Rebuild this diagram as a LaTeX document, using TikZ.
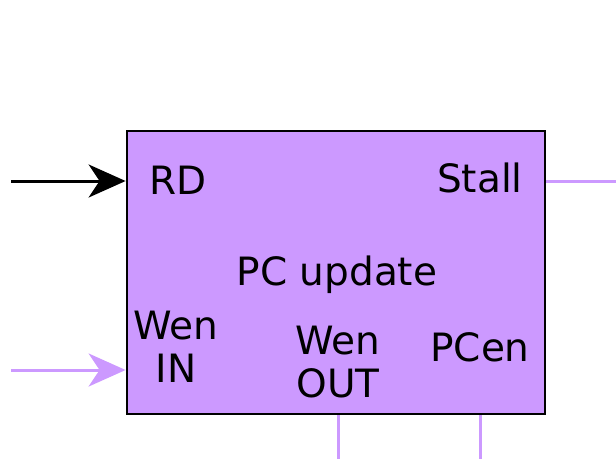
\documentclass[tikz,border=0pt]{standalone}
\usepackage{fontspec}
\setmainfont{DejaVu Sans}
\usetikzlibrary{arrows.meta}
\definecolor{pcfill}{HTML}{CC99FF}
\begin{document}
\begin{tikzpicture}[x=1pt,y=-1pt,
  box/.style={draw=black,line width=2.8pt,fill=pcfill,minimum width=418pt,minimum height=283pt,inner sep=0pt},
  lbl/.style={font=\fontsize{39}{43}\selectfont,inner sep=0pt,align=center},
  blackarrow/.style={draw=black,line width=3pt,-{Stealth[length=37pt,width=33pt,inset=11pt]}},
  purplearrow/.style={draw=pcfill,line width=3pt,-{Stealth[length=37pt,width=33pt,inset=11pt]}},
  purpleline/.style={draw=pcfill,line width=3pt}]
\useasboundingbox (0,0) rectangle (616,459);
\node[box] (pc) at (336,272.5) {};
\node[lbl] (rd) at (178,180) {RD};
\node[lbl] (stall) at (480,178) {Stall};
\node[lbl] (upd) at (337,275) {PC update};
\node[lbl] (wenin) at (176,347) {Wen\\IN};
\node[lbl] (wenout) at (338,362) {Wen\\OUT};
\node[lbl] (pcen) at (480,347) {PCen};
\coordinate (rdsrc) at (11,181);
\coordinate (winsrc) at (11,370);
\coordinate (stallend) at (616,181);
\coordinate (woutend) at (338,459);
\coordinate (pcenend) at (480,459);
\draw[blackarrow] (rdsrc) -- (rdsrc -| pc.west);
\draw[purplearrow] (winsrc) -- (winsrc -| pc.west);
\draw[purpleline] (stallend -| pc.east) -- (stallend);
\draw[purpleline] (woutend |- pc.south) -- (woutend);
\draw[purpleline] (pcenend |- pc.south) -- (pcenend);
\end{tikzpicture}
\end{document}
